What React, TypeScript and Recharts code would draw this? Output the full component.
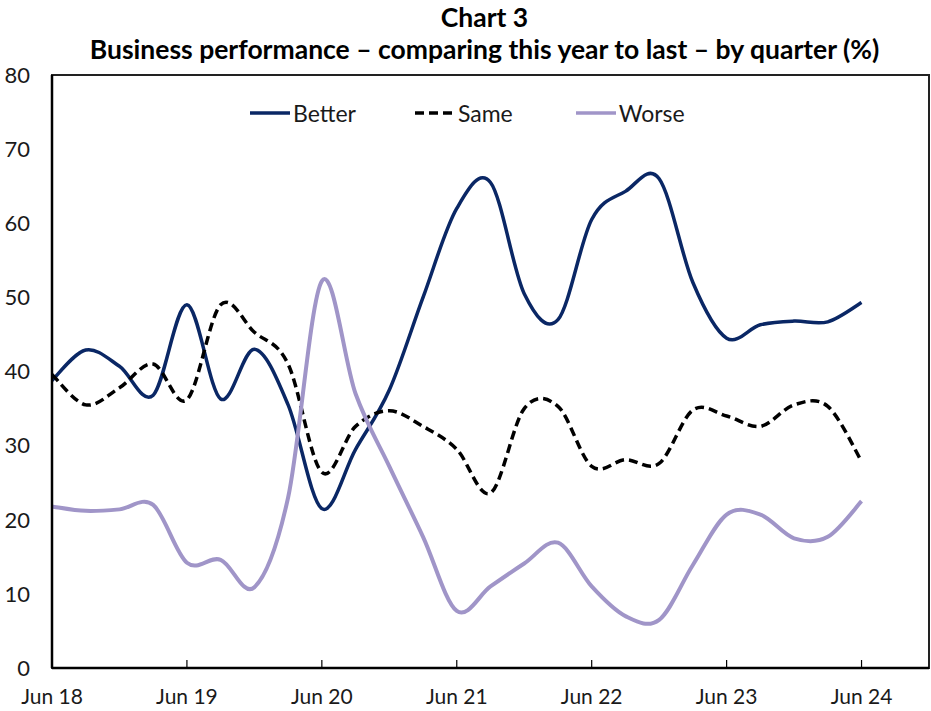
import React from 'react';
import { LineChart, Line, XAxis, YAxis, Legend, ReferenceArea } from 'recharts';

const quarters = [
  'Jun 18', 'Sep 18', 'Dec 18', 'Mar 19',
  'Jun 19', 'Sep 19', 'Dec 19', 'Mar 20',
  'Jun 20', 'Sep 20', 'Dec 20', 'Mar 21',
  'Jun 21', 'Sep 21', 'Dec 21', 'Mar 22',
  'Jun 22', 'Sep 22', 'Dec 22', 'Mar 23',
  'Jun 23', 'Sep 23', 'Dec 23', 'Mar 24',
  'Jun 24',
];

const better = [
  38.8, 42.9, 40.7, 36.8, 49.0, 36.3, 43.0, 35.5, 21.5, 29.5, 37.5, 50.0,
  62.0, 65.5, 50.5, 47.0, 60.5, 64.3, 66.0, 52.0, 44.5, 46.3, 46.8, 46.7, 49.3,
];
const same = [
  39.6, 35.5, 37.8, 41.0, 36.2, 49.0, 45.3, 41.0, 26.4, 32.6, 34.7, 32.6,
  29.5, 23.6, 35.0, 35.3, 27.2, 28.1, 27.6, 34.8, 34.0, 32.6, 35.5, 35.3, 27.9,
];
const worse = [
  21.8, 21.2, 21.4, 22.0, 14.2, 14.6, 10.9, 23.0, 52.2, 37.0, 27.2, 17.7,
  7.7, 11.0, 14.1, 16.9, 11.0, 7.0, 6.5, 13.9, 20.7, 20.7, 17.5, 17.7, 22.5,
];

const yTicks = [0, 10, 20, 30, 40, 50, 60, 70, 80];
const xTicks = [0, 4, 8, 12, 16, 20, 24];

const data = quarters.map((q, i) => ({ i, q, better: better[i], same: same[i], worse: worse[i] }));

// smoothed line like the spreadsheet one (catmull-rom through every point)
const smooth: any = (ctx: any) => {
  let pts: number[][] = [];
  return {
    areaStart() {},
    areaEnd() {},
    lineStart() { pts = []; },
    point(x: number, y: number) { pts.push([+x, +y]); },
    lineEnd() {
      if (!pts.length) return;
      ctx.moveTo(pts[0][0], pts[0][1]);
      for (let k = 0; k < pts.length - 1; k++) {
        const p0 = pts[k - 1] || pts[k];
        const p1 = pts[k];
        const p2 = pts[k + 1];
        const p3 = pts[k + 2] || pts[k + 1];
        ctx.bezierCurveTo(
          p1[0] + (p2[0] - p0[0]) / 6, p1[1] + (p2[1] - p0[1]) / 6,
          p2[0] - (p3[0] - p1[0]) / 6, p2[1] - (p3[1] - p1[1]) / 6,
          p2[0], p2[1],
        );
      }
    },
  };
};

const NAVY = '#0a2765';
const LAVENDER = '#a095c8';

const renderLegend = (props: any) => {
  const { payload } = props;
  return (
    <div style={{ display: 'flex', alignItems: 'center' }}>
      {payload.map((entry: any, idx: number) => (
        <div key={idx} style={{ display: 'flex', alignItems: 'center', marginRight: idx === 0 ? 58 : 62 }}>
          <svg width={42} height={10}>
            <line
              x1={1} y1={5} x2={41} y2={5}
              stroke={entry.color}
              strokeWidth={3.5}
              strokeDasharray={entry.payload.strokeDasharray}
            />
          </svg>
          <span style={{ fontSize: 23, lineHeight: '28px', color: '#1a1a1a', marginLeft: 2 }}>{entry.value}</span>
        </div>
      ))}
    </div>
  );
};

export default function App() {
  return (
    <div style={{ position: 'relative', width: 931, height: 711, fontFamily: 'Lato, sans-serif', background: '#fff' }}>
      <style>{'body{margin:0}'}</style>
      <div
        style={{
          position: 'absolute', top: 1, left: 0, width: 931, paddingLeft: 38, boxSizing: 'border-box',
          textAlign: 'center', fontWeight: 700, fontSize: 26.5, lineHeight: '32px', color: '#000',
          whiteSpace: 'nowrap',
        }}
      >
        <div>Chart 3</div>
        <div>Business performance – comparing this year to last – by quarter (%)</div>
      </div>
      <LineChart width={931} height={711} data={data} margin={{ top: 75, right: 2, left: 0, bottom: 0 }}>
        <XAxis
          dataKey="i"
          type="number"
          domain={[0, 26]}
          ticks={xTicks}
          tickFormatter={(v: number) => quarters[v]}
          height={43}
          tickSize={-8}
          tickMargin={29}
          axisLine={{ stroke: '#000', strokeWidth: 2.5 }}
          tickLine={{ stroke: '#000', strokeWidth: 1.2 }}
          tick={{ fill: '#1a1a1a', fontSize: 21 }}
        />
        <YAxis
          domain={[0, 80]}
          ticks={yTicks}
          width={52}
          tickSize={0}
          tickMargin={22}
          axisLine={{ stroke: '#000', strokeWidth: 2.5 }}
          tickLine={false}
          tick={{ fill: '#1a1a1a', fontSize: 22 }}
        />
        <ReferenceArea x1={0} x2={26} y1={0} y2={80} fill="none" stroke="#222" strokeWidth={2} />
        <Legend
          layout="horizontal"
          verticalAlign="middle"
          align="center"
          content={renderLegend}
          wrapperStyle={{ top: 99, left: 249, width: 500 }}
        />
        <Line
          dataKey="better"
          name="Better"
          type={smooth}
          stroke={NAVY}
          strokeWidth={3.5}
          dot={false}
          isAnimationActive={false}
        />
        <Line
          dataKey="same"
          name="Same"
          type={smooth}
          stroke="#000"
          strokeWidth={3.5}
          strokeDasharray="9 5"
          dot={false}
          isAnimationActive={false}
        />
        <Line
          dataKey="worse"
          name="Worse"
          type={smooth}
          stroke={LAVENDER}
          strokeWidth={4}
          dot={false}
          isAnimationActive={false}
        />
      </LineChart>
    </div>
  );
}
